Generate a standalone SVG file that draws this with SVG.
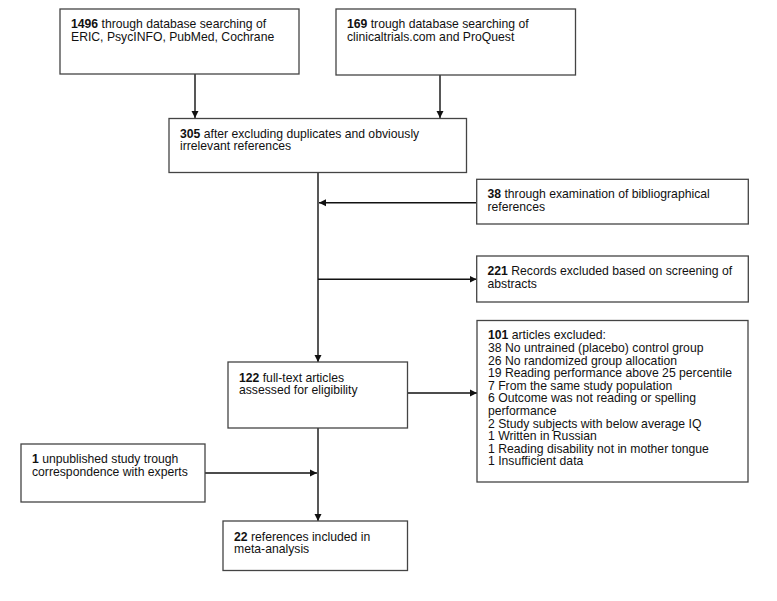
<svg xmlns="http://www.w3.org/2000/svg" width="777" height="601" viewBox="0 0 777 601">
<defs>
<marker id="ah" markerWidth="8" markerHeight="8" refX="7" refY="4" orient="auto" markerUnits="userSpaceOnUse">
<path d="M0,0.5 L7,4 L0,7.5 Z" fill="#111"/>
</marker>
<style>
.box{fill:#fff;stroke:#444;stroke-width:1.3}
.t{font-family:"Liberation Sans",Arial,sans-serif;font-size:12.2px;fill:#111}
.b{font-weight:bold}
.c{stroke:#111;stroke-width:1.4;fill:none}
</style>
</defs>
<rect width="777" height="601" fill="#fff"/>
<g id="connectors">
<line class="c" x1="195" y1="74" x2="195" y2="118" marker-end="url(#ah)"/>
<line class="c" x1="440" y1="75" x2="440" y2="118" marker-end="url(#ah)"/>
<line class="c" x1="318" y1="172.5" x2="318" y2="362" marker-end="url(#ah)"/>
<line class="c" x1="476.5" y1="202.7" x2="319" y2="202.7" marker-end="url(#ah)"/>
<line class="c" x1="318" y1="279.3" x2="476.5" y2="279.3" marker-end="url(#ah)"/>
<line class="c" x1="407" y1="393" x2="477" y2="393" marker-end="url(#ah)"/>
<line class="c" x1="318" y1="428" x2="318" y2="521" marker-end="url(#ah)"/>
<line class="c" x1="205" y1="473" x2="317" y2="473" marker-end="url(#ah)"/>
</g>
<g id="n1496">
<rect class="box" x="60" y="9" width="239" height="65"/>
<text class="t" x="71" y="28.3"><tspan class="b">1496</tspan> through database searching of</text>
<text class="t" x="71" y="40.9">ERIC, PsycINFO, PubMed, Cochrane</text>
</g>
<g id="n169">
<rect class="box" x="336" y="9" width="239.5" height="66"/>
<text class="t" x="347" y="28.3"><tspan class="b">169</tspan> trough database searching of</text>
<text class="t" x="347" y="40.9">clinicaltrials.com and ProQuest</text>
</g>
<g id="n305">
<rect class="box" x="169" y="118.5" width="297.5" height="54"/>
<text class="t" x="180" y="137.7"><tspan class="b">305</tspan> after excluding duplicates and obviously</text>
<text class="t" x="180" y="150.3">irrelevant references</text>
</g>
<g id="n38">
<rect class="box" x="476.7" y="179.3" width="271.6" height="44.7"/>
<text class="t" x="487.5" y="198.3"><tspan class="b">38</tspan> through examination of bibliographical</text>
<text class="t" x="487.5" y="210.9">references</text>
</g>
<g id="n221">
<rect class="box" x="476.7" y="256" width="271.6" height="46"/>
<text class="t" x="487.5" y="275"><tspan class="b">221</tspan> Records excluded based on screening of</text>
<text class="t" x="487.5" y="287.6">abstracts</text>
</g>
<g id="n122">
<rect class="box" x="228" y="362" width="179.5" height="66"/>
<text class="t" x="239" y="381.5"><tspan class="b">122</tspan> full-text articles</text>
<text class="t" x="239" y="394.1">assessed for eligibility</text>
</g>
<g id="n101">
<rect class="box" x="477" y="320.5" width="271" height="161.5"/>
<text class="t" x="488" y="339.3"><tspan class="b">101</tspan> articles excluded:</text>
<text class="t" x="488" y="351.9">38 No untrained (placebo) control group</text>
<text class="t" x="488" y="364.5">26 No randomized group allocation</text>
<text class="t" x="488" y="377.1">19 Reading performance above 25 percentile</text>
<text class="t" x="488" y="389.7">7 From the same study population</text>
<text class="t" x="488" y="402.3">6 Outcome was not reading or spelling</text>
<text class="t" x="488" y="414.9">performance</text>
<text class="t" x="488" y="427.5">2 Study subjects with below average IQ</text>
<text class="t" x="488" y="440.1">1 Written in Russian</text>
<text class="t" x="488" y="452.7">1 Reading disability not in mother tongue</text>
<text class="t" x="488" y="465.3">1 Insufficient data</text>
</g>
<g id="n1">
<rect class="box" x="21" y="444" width="184" height="58"/>
<text class="t" x="32" y="462.5"><tspan class="b">1</tspan> unpublished study trough</text>
<text class="t" x="32" y="475.5">correspondence with experts</text>
</g>
<g id="n22">
<rect class="box" x="223" y="521" width="184.5" height="49.5"/>
<text class="t" x="234" y="540.5"><tspan class="b">22</tspan> references included in</text>
<text class="t" x="234" y="553.1">meta-analysis</text>
</g>
</svg>
